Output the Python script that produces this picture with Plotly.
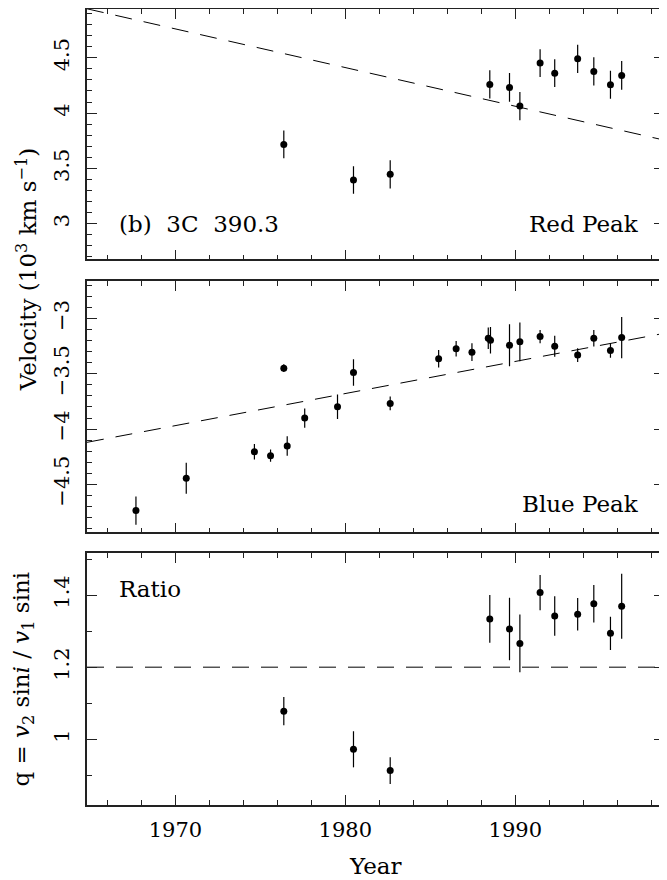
import plotly.graph_objects as go
from plotly.subplots import make_subplots

# ---------------- data ----------------
red_years = [1976.38, 1980.48, 1982.64, 1988.50, 1989.66, 1990.27, 1991.46,
             1992.32, 1993.67, 1994.62, 1995.60, 1996.26]
red_vel = [3.717, 3.395, 3.446, 4.259, 4.232, 4.063, 4.452, 4.361, 4.491,
           4.377, 4.256, 4.340]
red_err = [0.125, 0.125, 0.128, 0.128, 0.13, 0.128, 0.126, 0.126, 0.128,
           0.128, 0.126, 0.13]

blue_years = [1967.68, 1970.64, 1974.65, 1975.60, 1976.38, 1976.58, 1977.61,
              1979.54, 1980.48, 1982.64, 1985.49, 1986.52, 1987.45, 1988.41,
              1988.54, 1989.66, 1990.27, 1991.46, 1992.32, 1993.67, 1994.62,
              1995.60, 1996.26]
blue_vel = [-4.738, -4.446, -4.205, -4.241, -3.449, -4.154, -3.901, -3.798,
            -3.488, -3.768, -3.364, -3.274, -3.304, -3.178, -3.196, -3.241,
            -3.211, -3.163, -3.250, -3.331, -3.178, -3.289, -3.172]
blue_err = [0.127, 0.14, 0.07, 0.055, 0.035, 0.088, 0.087, 0.11, 0.12, 0.062,
            0.08, 0.07, 0.08, 0.098, 0.12, 0.19, 0.176, 0.06, 0.095, 0.063,
            0.075, 0.066, 0.187]

ratio_years = [1976.38, 1980.48, 1982.64, 1988.50, 1989.66, 1990.27, 1991.46,
               1992.32, 1993.67, 1994.62, 1995.60, 1996.26]
ratio_q = [1.078, 0.972, 0.913, 1.334, 1.306, 1.266, 1.407, 1.342, 1.347,
           1.376, 1.294, 1.369]
ratio_err = [0.039, 0.05, 0.037, 0.066, 0.087, 0.08, 0.049, 0.055, 0.045,
             0.052, 0.046, 0.09]

red_fit_x = [1964.8, 1998.75]
red_fit_y = [4.943, 3.756]
blue_fit_x = [1964.8, 1998.75]
blue_fit_y = [-4.12, -3.134]
ratio_fit_x = [1964.8, 1998.75]
ratio_fit_y = [1.2, 1.2]

x_range = [1964.8, 1998.75]
red_range = [2.678, 4.943]
blue_range = [-4.934, -2.66]
ratio_range = [0.8175, 1.516]

FONT = "DejaVu Serif"
FS_TICK = 21
FS_TEXT = 23

fig = make_subplots(rows=3, cols=1, shared_xaxes=True)

panels = [
    (1, red_years, red_vel, red_err, red_fit_x, red_fit_y),
    (2, blue_years, blue_vel, blue_err, blue_fit_x, blue_fit_y),
    (3, ratio_years, ratio_q, ratio_err, ratio_fit_x, ratio_fit_y),
]
for row, xs, ys, es, fx, fy in panels:
    fig.add_trace(go.Scatter(
        x=fx, y=fy, mode="lines",
        line=dict(color="black", width=1, dash="17px,12px"),
        showlegend=False, hoverinfo="skip"), row=row, col=1)
    fig.add_trace(go.Scatter(
        x=xs, y=ys, mode="markers",
        marker=dict(color="black", size=7),
        error_y=dict(type="data", array=es, visible=True, color="black",
                     thickness=1.2, width=0),
        showlegend=False), row=row, col=1)

axis_common = dict(
    showline=True, linecolor="#222222", linewidth=1.5, mirror="allticks",
    ticks="inside", ticklen=10, tickwidth=1, tickcolor="#222222",
    showgrid=False, zeroline=False,
    tickfont=dict(family=FONT, size=FS_TICK, color="black"),
)

domains = {1: [0.6847, 0.999], 2: [0.3422, 0.6575], 3: [0.0, 0.3158]}
for r in (1, 2, 3):
    fig.update_xaxes(
        range=x_range, dtick=10, tick0=1970,
        minor=dict(dtick=2, tick0=1970, ticks="inside", ticklen=5,
                   tickcolor="#222222", tickwidth=1),
        showticklabels=(r == 3), ticklabelstandoff=5,
        **axis_common, row=r, col=1)

fig.update_yaxes(range=red_range, dtick=0.5, tick0=3, tickangle=-90,
                 minor=dict(dtick=0.1, tick0=3, ticks="inside", ticklen=5,
                            tickcolor="#222222", tickwidth=1),
                 domain=domains[1], ticklabelstandoff=8,
                 **axis_common, row=1, col=1)
fig.update_yaxes(range=blue_range, dtick=0.5, tick0=-3, tickangle=-90,
                 minor=dict(dtick=0.1, tick0=-3, ticks="inside", ticklen=5,
                            tickcolor="#222222", tickwidth=1),
                 domain=domains[2], ticklabelstandoff=8,
                 **axis_common, row=2, col=1)
fig.update_yaxes(range=ratio_range, dtick=0.2, tick0=1, tickangle=-90,
                 minor=dict(dtick=0.1, tick0=1, ticks="inside", ticklen=5,
                            tickcolor="#222222", tickwidth=1),
                 domain=domains[3], ticklabelstandoff=8,
                 **axis_common, row=3, col=1)

tf = dict(family=FONT, size=FS_TEXT, color="black")
annotations = [
    dict(text="(b)\u00a0 3C\u00a0 390.3", x=1966.58, y=3.0, xref="x", yref="y",
         xanchor="left", yanchor="middle", showarrow=False, font=tf),
    dict(text="Red Peak", x=1997.4, y=3.0, xref="x", yref="y",
         xanchor="right", yanchor="middle", showarrow=False, font=tf),
    dict(text="Blue Peak", x=1997.4, y=-4.678, xref="x2", yref="y2",
         xanchor="right", yanchor="middle", showarrow=False, font=tf),
    dict(text="Ratio", x=1966.58, y=1.418, xref="x3", yref="y3",
         xanchor="left", yanchor="middle", showarrow=False, font=tf),
    dict(text="Velocity (10<sup>3</sup> km s<sup>\u22121</sup>)",
         x=-0.105, y=0.6715, xref="paper", yref="paper",
         xanchor="center", yanchor="middle", textangle=-90,
         showarrow=False, font=tf),
    dict(text="q = <i>v</i><sub>2</sub> sin<i>i</i> / <i>v</i><sub>1</sub> sini",
         x=-0.11, y=0.158, xref="paper", yref="paper",
         xanchor="center", yanchor="middle", textangle=-90,
         showarrow=False, font=tf),
    dict(text="Year", x=0.5, y=-0.076, xref="paper", yref="paper",
         xanchor="center", yanchor="middle", showarrow=False, font=tf),
]

# page body adds an 8 px offset; figure sized so it ends at the window edge
fig.update_layout(
    width=659, height=872,
    margin=dict(l=79, r=3, t=0, b=75),
    paper_bgcolor="white", plot_bgcolor="white",
    font=dict(family=FONT, size=FS_TEXT, color="black"),
    annotations=annotations,
    showlegend=False,
)

fig.write_html("out.html")
